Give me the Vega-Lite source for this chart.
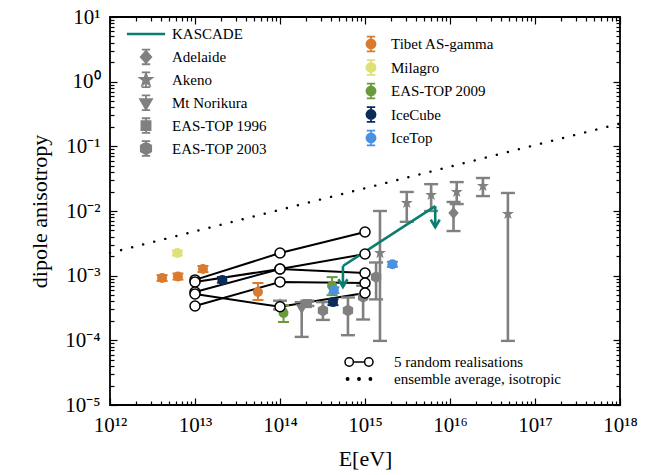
{
  "$schema": "https://vega.github.io/schema/vega-lite/v6.json",
  "width": 510,
  "height": 388,
  "autosize": "none",
  "padding": {"left": 110, "top": 17, "right": 50, "bottom": 70},
  "background": "white",
  "config": {
    "view": {"stroke": "black", "strokeWidth": 1.8},
    "font": "Liberation Serif",
    "axis": {"domain": false, "grid": false, "tickColor": "black", "tickWidth": 1.2, "labelFont": "Liberation Serif", "labelFontSize": 21, "labelColor": "black", "titleFont": "Liberation Serif", "titleFontSize": 22, "titleFontWeight": "normal", "titleColor": "black", "labelOverlap": false, "labelFlush": false, "labelBound": false},
    "legend": {"padding": 0, "labelFont": "Liberation Serif", "labelFontSize": 15, "labelColor": "black", "labelLimit": 400, "symbolOpacity": 1}
  },
  "datasets": {
    "ens": [
      {"E": 1e12, "A": 0.00225, "kind": "ensemble average, isotropic"},
      {"E": 1e18, "A": 0.225, "kind": "ensemble average, isotropic"}
    ],
    "real": [
      {"id": 1, "E": 1e13, "A": 0.00086, "kind": "5 random realisations"},
      {"id": 1, "E": 1e14, "A": 0.00224, "kind": "5 random realisations"},
      {"id": 1, "E": 1e15, "A": 0.00473, "kind": "5 random realisations"},
      {"id": 2, "E": 1e13, "A": 0.0008, "kind": "5 random realisations"},
      {"id": 2, "E": 1e14, "A": 0.00127, "kind": "5 random realisations"},
      {"id": 2, "E": 1e15, "A": 0.00216, "kind": "5 random realisations"},
      {"id": 3, "E": 1e13, "A": 0.00056, "kind": "5 random realisations"},
      {"id": 3, "E": 1e14, "A": 0.00127, "kind": "5 random realisations"},
      {"id": 3, "E": 1e15, "A": 0.0011, "kind": "5 random realisations"},
      {"id": 4, "E": 1e13, "A": 0.00034, "kind": "5 random realisations"},
      {"id": 4, "E": 1e14, "A": 0.0008, "kind": "5 random realisations"},
      {"id": 4, "E": 1e15, "A": 0.00077, "kind": "5 random realisations"},
      {"id": 5, "E": 1e13, "A": 0.00052, "kind": "5 random realisations"},
      {"id": 5, "E": 1e14, "A": 0.00033, "kind": "5 random realisations"},
      {"id": 5, "E": 1e15, "A": 0.00054, "kind": "5 random realisations"}
    ],
    "gray": [
      {"series": "Adelaide", "E": 1e14, "A": 0.00036, "lo": 0.0003, "hi": 0.00041},
      {"series": "Mt Norikura", "E": 1.8e14, "A": 0.00032, "lo": 0.000113, "hi": 0.00039},
      {"series": "EAS-TOP 1996", "E": 2.1e14, "A": 0.00037, "lo": 0.00034, "hi": 0.00041},
      {"series": "EAS-TOP 2003", "E": 3.2e14, "A": 0.00029, "lo": 0.000207, "hi": 0.00039},
      {"series": "EAS-TOP 2003", "E": 6.3e14, "A": 0.00029, "lo": 0.00012, "hi": 0.00046},
      {"series": "EAS-TOP 2003", "E": 9.5e14, "A": 0.00047, "lo": 0.00021, "hi": 0.0007},
      {"series": "EAS-TOP 2003", "E": 1.35e15, "A": 0.00095, "lo": 0.00043, "hi": 0.0016},
      {"series": "Adelaide", "E": 1.1e16, "A": 0.0093, "lo": 0.0049, "hi": 0.0138},
      {"series": "Akeno", "E": 1.5e15, "A": 0.00224, "lo": 0.000098, "hi": 0.01},
      {"series": "Akeno", "E": 3.1e15, "A": 0.0133, "lo": 0.0068, "hi": 0.0197},
      {"series": "Akeno", "E": 6.0e15, "A": 0.0177, "lo": 0.01, "hi": 0.026},
      {"series": "Akeno", "E": 1.2e16, "A": 0.0197, "lo": 0.0128, "hi": 0.028},
      {"series": "Akeno", "E": 2.44e16, "A": 0.0244, "lo": 0.017, "hi": 0.0324},
      {"series": "Akeno", "E": 4.8e16, "A": 0.009, "lo": 0.000098, "hi": 0.019}
    ],
    "col": [
      {"series": "Tibet AS-gamma", "E": 4.1e12, "A": 0.00092, "lo": 0.00083, "hi": 0.00102},
      {"series": "Tibet AS-gamma", "E": 6.3e12, "A": 0.00097, "lo": 0.00087, "hi": 0.00108},
      {"series": "Tibet AS-gamma", "E": 1.24e13, "A": 0.00127, "lo": 0.00114, "hi": 0.00141},
      {"series": "Tibet AS-gamma", "E": 5.5e13, "A": 0.00056, "lo": 0.00042, "hi": 0.00077},
      {"series": "Milagro", "E": 6.2e12, "A": 0.00224, "lo": 0.00205, "hi": 0.00245},
      {"series": "EAS-TOP 2009", "E": 1.1e14, "A": 0.000265, "lo": 0.000192, "hi": 0.00035},
      {"series": "EAS-TOP 2009", "E": 4.1e14, "A": 0.0007, "lo": 0.0005, "hi": 0.00095},
      {"series": "IceCube", "E": 2.1e13, "A": 0.00086, "lo": 0.00078, "hi": 0.00095},
      {"series": "IceCube", "E": 4.2e14, "A": 0.00039, "lo": 0.00035, "hi": 0.00043},
      {"series": "IceTop", "E": 4.3e14, "A": 0.0006, "lo": 0.00054, "hi": 0.00066},
      {"series": "IceTop", "E": 2.1e15, "A": 0.0015, "lo": 0.00137, "hi": 0.00164}
    ],
    "kas": [
      {"E": 5.5e14, "A": 0.00141, "lim": 0.00067},
      {"E": 6.7e15, "A": 0.0119, "lim": 0.0056}
    ]
  },
  "resolve": {"axis": {"x": "independent", "y": "independent"}, "scale": {"shape": "independent", "fill": "independent", "stroke": "independent"}},
  "layer": [
    {
      "data": {"name": "ens"},
      "mark": {"type": "line", "stroke": "black", "strokeWidth": 2.4, "strokeCap": "round", "strokeDash": [0.1, 11.3]},
      "encoding": {
        "x": {"field": "E", "type": "quantitative", "scale": {"type": "log", "domain": [1e12, 1e18], "nice": false},
          "axis": {"orient": "bottom", "title": "E[eV]", "titlePadding": 10,
            "values": [1e12,2e12,3e12,4e12,5e12,6e12,7e12,8e12,9e12,1e13,2e13,3e13,4e13,5e13,6e13,7e13,8e13,9e13,1e14,2e14,3e14,4e14,5e14,6e14,7e14,8e14,9e14,1e15,2e15,3e15,4e15,5e15,6e15,7e15,8e15,9e15,1e16,2e16,3e16,4e16,5e16,6e16,7e16,8e16,9e16,1e17,2e17,3e17,4e17,5e17,6e17,7e17,8e17,9e17,1e18],
            "labelExpr": "abs(log(datum.value)/LN10 - round(log(datum.value)/LN10)) < 0.001 ? ['10¹²','10¹³','10¹⁴','10¹⁵','10¹⁶','10¹⁷','10¹⁸'][round(log(datum.value)/LN10)-12] : ''",
            "tickSize": {"condition": {"test": "abs(log(datum.value)/LN10 - round(log(datum.value)/LN10)) < 0.001", "value": -7}, "value": -4},
            "labelPadding": 16}},
        "y": {"field": "A", "type": "quantitative", "scale": {"type": "log", "domain": [1e-5, 10], "nice": false},
          "axis": {"orient": "left", "title": "dipole anisotropy", "titlePadding": 13,
            "values": [1e-5,2e-5,3e-5,4e-5,5e-5,6e-5,7e-5,8e-5,9e-5,1e-4,2e-4,3e-4,4e-4,5e-4,6e-4,7e-4,8e-4,9e-4,1e-3,2e-3,3e-3,4e-3,5e-3,6e-3,7e-3,8e-3,9e-3,1e-2,2e-2,3e-2,4e-2,5e-2,6e-2,7e-2,8e-2,9e-2,0.1,0.2,0.3,0.4,0.5,0.6,0.7,0.8,0.9,1,2,3,4,5,6,7,8,9,10],
            "labelExpr": "abs(log(datum.value)/LN10 - round(log(datum.value)/LN10)) < 0.001 ? ['10⁻⁵','10⁻⁴','10⁻³','10⁻²','10⁻¹','10⁰','10¹'][round(log(datum.value)/LN10)+5] : ''",
            "tickSize": {"condition": {"test": "abs(log(datum.value)/LN10 - round(log(datum.value)/LN10)) < 0.001", "value": -7}, "value": -4},
            "labelPadding": 17}}
      }
    },
    {
      "data": {"name": "real"},
      "mark": {"type": "line", "stroke": "black", "strokeWidth": 2},
      "encoding": {
        "x": {"field": "E", "type": "quantitative", "axis": null},
        "y": {"field": "A", "type": "quantitative", "axis": null},
        "detail": {"field": "id", "type": "nominal"}
      }
    },
    {
      "data": {"name": "gray"},
      "mark": {"type": "rule", "color": "#808080", "strokeWidth": 2.6},
      "encoding": {
        "x": {"field": "E", "type": "quantitative", "axis": null},
        "y": {"field": "lo", "type": "quantitative", "axis": null},
        "y2": {"field": "hi"}
      }
    },
    {
      "data": {"name": "gray"},
      "transform": [{"fold": ["lo", "hi"], "as": ["end", "val"]}],
      "mark": {"type": "point", "shape": "M-1,0H1", "size": 196, "filled": false, "stroke": "#808080", "strokeWidth": 2.4, "opacity": 1},
      "encoding": {
        "x": {"field": "E", "type": "quantitative", "axis": null},
        "y": {"field": "val", "type": "quantitative", "axis": null}
      }
    },
    {
      "data": {"name": "gray"},
      "mark": {"type": "point", "filled": true, "color": "#808080", "size": 196, "opacity": 1},
      "encoding": {
        "x": {"field": "E", "type": "quantitative", "axis": null},
        "y": {"field": "A", "type": "quantitative", "axis": null},
        "shape": {"field": "series", "type": "nominal", "legend": null,
          "scale": {"domain": ["Adelaide", "Akeno", "Mt Norikura", "EAS-TOP 1996", "EAS-TOP 2003"],
            "range": ["M0,-0.85L0.75,0L0,0.85L-0.75,0Z", "M0,-0.9L0.21,-0.29L0.86,-0.28L0.34,0.11L0.53,0.73L0,0.36L-0.53,0.73L-0.34,0.11L-0.86,-0.28L-0.21,-0.29Z", "M-0.85,-0.5L0.85,-0.5L0,0.95Z", "M-0.65,-0.65H0.65V0.65H-0.65Z", "M0,-0.85L0.74,-0.43L0.74,0.43L0,0.85L-0.74,0.43L-0.74,-0.43Z"]}}
      }
    },
    {
      "data": {"name": "col"},
      "mark": {"type": "rule", "strokeWidth": 2},
      "encoding": {
        "x": {"field": "E", "type": "quantitative", "axis": null},
        "y": {"field": "lo", "type": "quantitative", "axis": null},
        "y2": {"field": "hi"},
        "stroke": {"field": "series", "type": "nominal", "legend": null,
          "scale": {"domain": ["Tibet AS-gamma", "Milagro", "EAS-TOP 2009", "IceCube", "IceTop"], "range": ["#d97a2f", "#dfe07b", "#6a9a3b", "#0b2b58", "#4b91e2"]}}
      }
    },
    {
      "data": {"name": "col"},
      "transform": [{"fold": ["lo", "hi"], "as": ["end", "val"]}],
      "mark": {"type": "point", "shape": "M-1,0H1", "size": 121, "filled": false, "strokeWidth": 2, "opacity": 1},
      "encoding": {
        "x": {"field": "E", "type": "quantitative", "axis": null},
        "y": {"field": "val", "type": "quantitative", "axis": null},
        "stroke": {"field": "series", "type": "nominal", "legend": null,
          "scale": {"domain": ["Tibet AS-gamma", "Milagro", "EAS-TOP 2009", "IceCube", "IceTop"], "range": ["#d97a2f", "#dfe07b", "#6a9a3b", "#0b2b58", "#4b91e2"]}}
      }
    },
    {
      "data": {"name": "col"},
      "mark": {"type": "point", "shape": "circle", "size": 100, "opacity": 1, "strokeWidth": 0.01},
      "encoding": {
        "x": {"field": "E", "type": "quantitative", "axis": null},
        "y": {"field": "A", "type": "quantitative", "axis": null},
        "fill": {"field": "series", "type": "nominal",
          "scale": {"domain": ["Tibet AS-gamma", "Milagro", "EAS-TOP 2009", "IceCube", "IceTop"], "range": ["#d97a2f", "#dfe07b", "#6a9a3b", "#0b2b58", "#4b91e2"]},
          "legend": {"title": null, "orient": "none", "legendX": 253, "legendY": 19, "symbolSize": 196, "labelOffset": 12, "rowPadding": 1.5, "symbolStrokeWidth": 1.8,
            "symbolType": "M0,-1.05V1.05M-0.6,-1.05H0.6M-0.6,1.05H0.6M-0.65,0A0.65,0.65 0 1,1 0.65,0A0.65,0.65 0 1,1 -0.65,0Z"}},
        "stroke": {"field": "series", "type": "nominal",
          "scale": {"domain": ["Tibet AS-gamma", "Milagro", "EAS-TOP 2009", "IceCube", "IceTop"], "range": ["#d97a2f", "#dfe07b", "#6a9a3b", "#0b2b58", "#4b91e2"]},
          "legend": {"title": null, "orient": "none", "legendX": 253, "legendY": 19, "symbolSize": 196, "labelOffset": 12, "rowPadding": 1.5, "symbolStrokeWidth": 1.8,
            "symbolType": "M0,-1.05V1.05M-0.6,-1.05H0.6M-0.6,1.05H0.6M-0.65,0A0.65,0.65 0 1,1 0.65,0A0.65,0.65 0 1,1 -0.65,0Z"}}
      }
    },
    {
      "data": {"name": "kas"},
      "mark": {"type": "line", "stroke": "#0b7d71", "strokeWidth": 2.6},
      "encoding": {
        "x": {"field": "E", "type": "quantitative", "axis": null},
        "y": {"field": "A", "type": "quantitative", "axis": null}
      }
    },
    {
      "data": {"name": "kas"},
      "mark": {"type": "rule", "stroke": "#0b7d71", "strokeWidth": 2.6},
      "encoding": {
        "x": {"field": "E", "type": "quantitative", "axis": null},
        "y": {"field": "A", "type": "quantitative", "axis": null},
        "y2": {"field": "lim"}
      }
    },
    {
      "data": {"name": "kas"},
      "mark": {"type": "point", "shape": "M-1,-1.7L0,0L1,-1.7", "size": 81, "filled": false, "stroke": "#0b7d71", "strokeWidth": 2.6, "opacity": 1},
      "encoding": {
        "x": {"field": "E", "type": "quantitative", "axis": null},
        "y": {"field": "lim", "type": "quantitative", "axis": null}
      }
    },
    {
      "data": {"name": "real"},
      "mark": {"type": "point", "shape": "circle", "size": 100, "filled": false, "fill": "white", "fillOpacity": 1, "stroke": "black", "strokeWidth": 1.5, "opacity": 1},
      "encoding": {
        "x": {"field": "E", "type": "quantitative", "axis": null},
        "y": {"field": "A", "type": "quantitative", "axis": null}
      }
    },
    {
      "data": {"name": "gray"},
      "transform": [{"filter": "false"}],
      "mark": {"type": "point", "opacity": 1},
      "encoding": {
        "shape": {"field": "series", "type": "nominal",
          "scale": {"domain": ["KASCADE", "Adelaide", "Akeno", "Mt Norikura", "EAS-TOP 1996", "EAS-TOP 2003"],
            "range": ["M0,-1.05M0,1.05M-2.6,-0.05H2.6V0.05H-2.6Z", "M0,-1.05V1.05M-0.6,-1.05H0.6M-0.6,1.05H0.6M0,-0.85L0.75,0L0,0.85L-0.75,0Z", "M0,-1.05V1.05M-0.6,-1.05H0.6M-0.6,1.05H0.6M0,-0.9L0.21,-0.29L0.86,-0.28L0.34,0.11L0.53,0.73L0,0.36L-0.53,0.73L-0.34,0.11L-0.86,-0.28L-0.21,-0.29Z", "M0,-1.05V1.05M-0.6,-1.05H0.6M-0.6,1.05H0.6M-0.85,-0.5L0.85,-0.5L0,0.95Z", "M0,-1.05V1.05M-0.6,-1.05H0.6M-0.6,1.05H0.6M-0.65,-0.65H0.65V0.65H-0.65Z", "M0,-1.05V1.05M-0.6,-1.05H0.6M-0.6,1.05H0.6M0,-0.85L0.74,-0.43L0.74,0.43L0,0.85L-0.74,0.43L-0.74,-0.43Z"]},
          "legend": {"title": null, "orient": "none", "legendX": 28, "legendY": 9, "symbolSize": 196, "labelOffset": 18, "rowPadding": 0.9, "symbolStrokeWidth": 1.8}},
        "fill": {"field": "series", "type": "nominal",
          "scale": {"domain": ["KASCADE", "Adelaide", "Akeno", "Mt Norikura", "EAS-TOP 1996", "EAS-TOP 2003"], "range": ["#0b7d71", "#808080", "#808080", "#808080", "#808080", "#808080"]},
          "legend": {"title": null, "orient": "none", "legendX": 28, "legendY": 9, "symbolSize": 196, "labelOffset": 18, "rowPadding": 0.9, "symbolStrokeWidth": 1.8}},
        "stroke": {"field": "series", "type": "nominal",
          "scale": {"domain": ["KASCADE", "Adelaide", "Akeno", "Mt Norikura", "EAS-TOP 1996", "EAS-TOP 2003"], "range": ["#0b7d71", "#808080", "#808080", "#808080", "#808080", "#808080"]},
          "legend": {"title": null, "orient": "none", "legendX": 28, "legendY": 9, "symbolSize": 196, "labelOffset": 18, "rowPadding": 0.9, "symbolStrokeWidth": 1.8}}
      }
    },
    {
      "data": {"name": "ens"},
      "transform": [{"filter": "false"}],
      "mark": {"type": "point", "opacity": 1},
      "encoding": {
        "shape": {"field": "kind", "type": "nominal",
          "scale": {"domain": ["5 random realisations", "ensemble average, isotropic"],
            "range": ["M-2,0A0.6,0.6 0 1,1 -0.8,0A0.6,0.6 0 1,1 -2,0ZM-0.8,0H0.8M0.8,0A0.6,0.6 0 1,1 2,0A0.6,0.6 0 1,1 0.8,0Z", "M-1.8,0A0.17,0.17 0 1,1 -1.46,0A0.17,0.17 0 1,1 -1.8,0ZM-0.17,0A0.17,0.17 0 1,1 0.17,0A0.17,0.17 0 1,1 -0.17,0ZM1.46,0A0.17,0.17 0 1,1 1.8,0A0.17,0.17 0 1,1 1.46,0Z"]},
          "legend": {"title": null, "orient": "none", "legendX": 241, "legendY": 337, "symbolSize": 196, "labelOffset": 27, "rowPadding": 1, "symbolStrokeWidth": 1.5}},
        "fill": {"field": "kind", "type": "nominal",
          "scale": {"domain": ["5 random realisations", "ensemble average, isotropic"], "range": ["white", "black"]},
          "legend": {"title": null, "orient": "none", "legendX": 241, "legendY": 337, "symbolSize": 196, "labelOffset": 27, "rowPadding": 1, "symbolStrokeWidth": 1.5}},
        "stroke": {"field": "kind", "type": "nominal",
          "scale": {"domain": ["5 random realisations", "ensemble average, isotropic"], "range": ["black", "black"]},
          "legend": {"title": null, "orient": "none", "legendX": 241, "legendY": 337, "symbolSize": 196, "labelOffset": 27, "rowPadding": 1, "symbolStrokeWidth": 1.5}}
      }
    },
    {
      "data": {"name": "ens"},
      "mark": {"type": "point", "opacity": 0},
      "encoding": {
        "x": {"field": "E", "type": "quantitative",
          "axis": {"orient": "top", "title": null, "labels": false,
            "values": [1e12,2e12,3e12,4e12,5e12,6e12,7e12,8e12,9e12,1e13,2e13,3e13,4e13,5e13,6e13,7e13,8e13,9e13,1e14,2e14,3e14,4e14,5e14,6e14,7e14,8e14,9e14,1e15,2e15,3e15,4e15,5e15,6e15,7e15,8e15,9e15,1e16,2e16,3e16,4e16,5e16,6e16,7e16,8e16,9e16,1e17,2e17,3e17,4e17,5e17,6e17,7e17,8e17,9e17,1e18],
            "tickSize": {"condition": {"test": "abs(log(datum.value)/LN10 - round(log(datum.value)/LN10)) < 0.001", "value": -7}, "value": -4}}},
        "y": {"field": "A", "type": "quantitative",
          "axis": {"orient": "right", "title": null, "labels": false,
            "values": [1e-5,2e-5,3e-5,4e-5,5e-5,6e-5,7e-5,8e-5,9e-5,1e-4,2e-4,3e-4,4e-4,5e-4,6e-4,7e-4,8e-4,9e-4,1e-3,2e-3,3e-3,4e-3,5e-3,6e-3,7e-3,8e-3,9e-3,1e-2,2e-2,3e-2,4e-2,5e-2,6e-2,7e-2,8e-2,9e-2,0.1,0.2,0.3,0.4,0.5,0.6,0.7,0.8,0.9,1,2,3,4,5,6,7,8,9,10],
            "tickSize": {"condition": {"test": "abs(log(datum.value)/LN10 - round(log(datum.value)/LN10)) < 0.001", "value": -7}, "value": -4}}}
      }
    }
  ]
}
